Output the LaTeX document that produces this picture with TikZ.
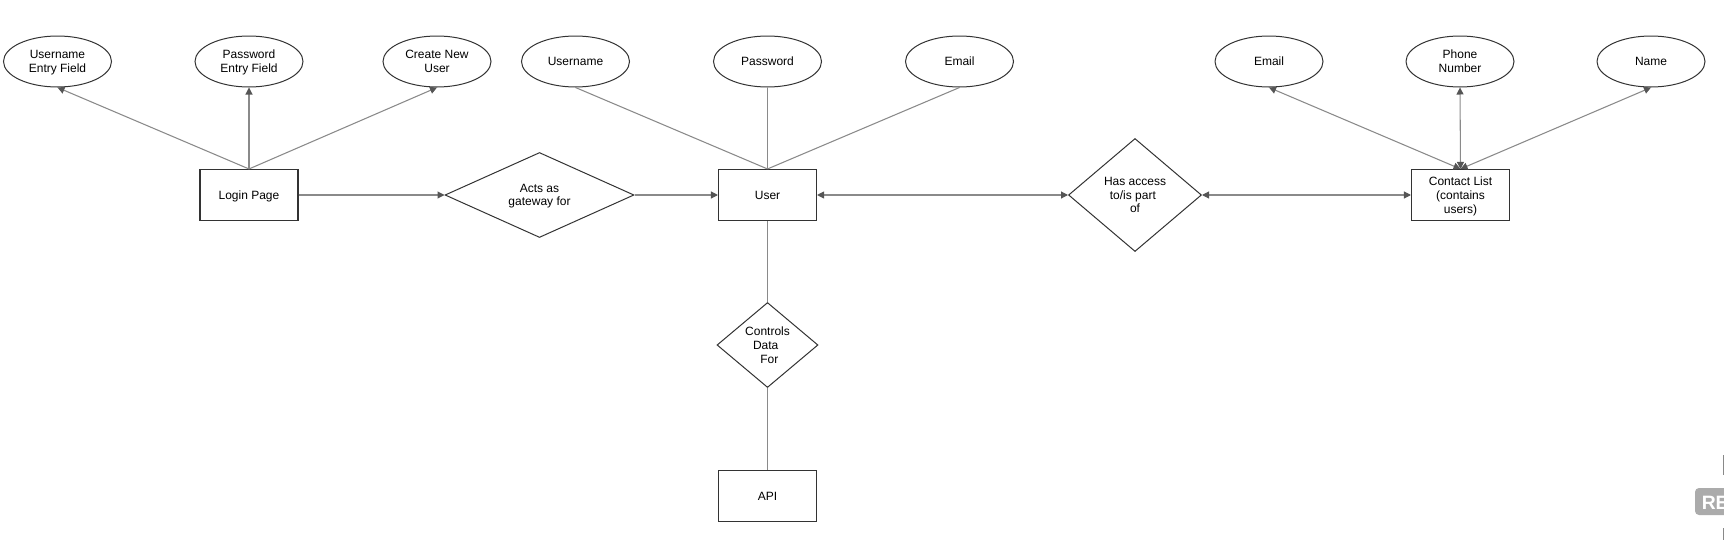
\documentclass[tikz,border=0pt]{standalone}
\usepackage{fontspec}
\setmainfont{Liberation Sans}
\usetikzlibrary{shapes.geometric,arrows.meta}
\definecolor{bordc}{HTML}{333333}
\definecolor{linec}{HTML}{8A8A8A}
\definecolor{tipc}{HTML}{555555}
\definecolor{badgec}{HTML}{ABABAB}
\begin{document}
\begin{tikzpicture}[x=0.75pt,y=-0.75pt,
  every node/.style={font=\fontsize{9pt}{10.3pt}\selectfont, text=black, text depth=0pt},
  ent/.style={draw=bordc, line width=0.8pt, fill=white, minimum width=98*0.75pt, minimum height=51*0.75pt, inner sep=0pt, align=center},
  attr/.style={ellipse, draw=bordc, line width=0.75pt, fill=white, minimum width=108*0.75pt, minimum height=51*0.75pt, inner sep=0pt, align=center},
  rel/.style={diamond, draw=bordc, line width=0.75pt, fill=white, inner sep=0pt, align=center},
  conn/.style={draw=linec, line width=0.8pt},
  arr/.tip={Triangle[length=5.25pt,width=5.25pt,color=tipc,fill=tipc]}
]
\useasboundingbox (0,0) rectangle (1724,539);

% attribute ellipses (top row)
\node[attr] (e1) at (57.5,61.5) {Username\\Entry Field};
\node[attr] (e2) at (249,61.5) {Password\\Entry Field};
\node[attr] (e3) at (437,61.5) {Create New\\User};
\node[attr] (u1) at (575.5,61.5) {Username};
\node[attr] (u2) at (767.5,61.5) {Password};
\node[attr] (u3) at (959.5,61.5) {Email};
\node[attr] (c1) at (1269,61.5) {Email};
\node[attr] (c2) at (1460,61.5) {Phone\\Number};
\node[attr] (c3) at (1651,61.5) {Name};

% entities
\node[ent] (login) at (249,195) {Login Page};
\node[ent] (user) at (767.5,195) {User};
\node[ent] (contact) at (1460.5,195) {Contact List\\(contains\\users)};
\node[ent] (api) at (767.5,496) {API};

% relationships
\node[rel, minimum width=189*0.75pt, minimum height=85*0.75pt] (acts) at (539.5,195) {Acts as\\gateway for};
\node[rel, minimum width=133*0.75pt, minimum height=113*0.75pt] (has) at (1135,195) {Has access\\to/is part\kern0.35em\\of};
\node[rel, minimum width=101*0.75pt, minimum height=85*0.75pt] (ctrl) at (767.5,345) {Controls\\Data\kern0.3em\\\kern0.3em For};

% connectors
\draw[conn,-arr] (login.north) -- (e1.south);
\draw[conn,-arr] (login.north) -- (e2.south);
\draw[conn,-arr] (login.north) -- (e3.south);
\draw[conn,-arr] (login.east) -- (acts.west);
\draw[conn,-arr] (acts.east) -- (user.west);
\draw[conn] (u1.south) -- (user.north);
\draw[conn] (u2.south) -- (user.north);
\draw[conn] (u3.south) -- (user.north);
\draw[conn,arr-arr] (user.east) -- (has.west);
\draw[conn,arr-arr] (has.east) -- (contact.west);
\draw[conn,arr-arr] (contact.north) -- (c1.south);
\draw[conn,arr-arr] (contact.north) -- (c2.south);
\draw[conn,arr-arr] (contact.north) -- (c3.south);
\draw[conn] (user.south) -- (ctrl.north);
\draw[conn] (ctrl.south) -- (api.north);

% partial badge at the right edge
\begin{scope}
\clip (0,0) rectangle (1724,539);
\fill[badgec, rounded corners=3pt] (1695,488) rectangle (1745,515);
\node[anchor=base west, inner sep=0pt, text=white, font=\bfseries\fontsize{14.5pt}{15pt}\selectfont] (re) at (1701.5,509) {RE};
\fill[badgec!80!black] (1722.5,455) rectangle (1726,475);
\fill[badgec!80!black] (1722.5,528) rectangle (1726,545);
\end{scope}
\end{tikzpicture}
\end{document}
